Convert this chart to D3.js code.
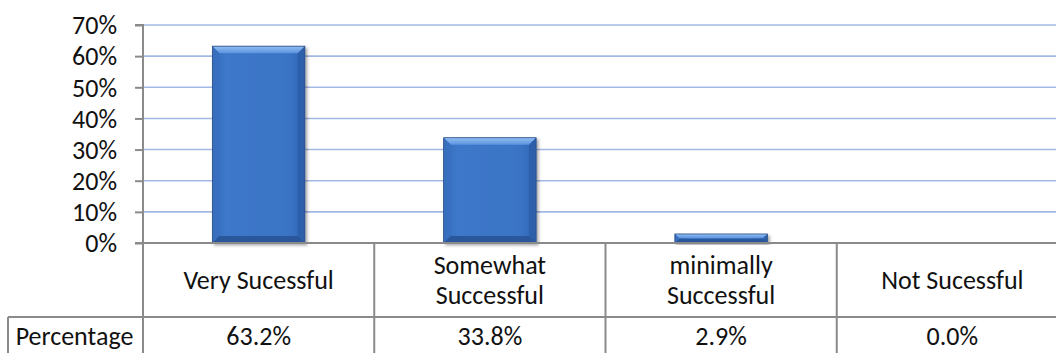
<!DOCTYPE html>
<html>
<head>
<meta charset="utf-8">
<script src="https://cdn.jsdelivr.net/npm/d3@7"></script>
<style>
  html, body { margin: 0; padding: 0; background: #fff; }
  svg { display: block; }
  text { font-family: Carlito, Calibri, "Open Sans", sans-serif; fill: #111; }
</style>
</head>
<body>
<svg id="chart" width="1056" height="353"></svg>
<script>
// Survey results: share of responses in each success rating
const categories = [["Very Sucessful"], ["Somewhat", "Successful"], ["minimally", "Successful"], ["Not Sucessful"]];
const values = [0.632, 0.338, 0.029, 0.0];
const valueLabels = ["63.2%", "33.8%", "2.9%", "0.0%"];
const yTicks = [0, 0.1, 0.2, 0.3, 0.4, 0.5, 0.6, 0.7];
const rowLabel = "Percentage";

const W = 1056, H = 353;
const plotLeft = 143, plotRight = 1068, plotTop = 25, plotBottom = 243;
const headerBottom = 317, tableBottom = 356, rowLabelLeft = 8;
const fontSize = 26;
const fontStack = 'Carlito, Calibri, "Open Sans", sans-serif';

const svg = d3.select("#chart");
const keys = categories.map((c, i) => i);

const x = d3.scaleBand().domain(keys).range([plotLeft, plotRight]).paddingInner(0.6).paddingOuter(0.3);
const y = d3.scaleLinear().domain([0, 0.7]).range([plotBottom, plotTop]);

const defs = svg.append("defs");
const topGrad = defs.append("linearGradient").attr("id", "bevelTop").attr("x1", 0).attr("y1", 0).attr("x2", 0).attr("y2", 1);
topGrad.append("stop").attr("offset", "0%").attr("stop-color", "#94bef2");
topGrad.append("stop").attr("offset", "100%").attr("stop-color", "#5a94df");
const bodyGrad = defs.append("linearGradient").attr("id", "barBody").attr("x1", 0).attr("y1", 0).attr("x2", 1).attr("y2", 0);
bodyGrad.append("stop").attr("offset", "0%").attr("stop-color", "#3569b8");
bodyGrad.append("stop").attr("offset", "15%").attr("stop-color", "#3d78ca");
bodyGrad.append("stop").attr("offset", "85%").attr("stop-color", "#3a73c4");
bodyGrad.append("stop").attr("offset", "100%").attr("stop-color", "#2f62ae");
const shadow = defs.append("filter").attr("id", "barShadow").attr("x", "-20%").attr("y", "-20%").attr("width", "140%").attr("height", "140%");
shadow.append("feDropShadow").attr("dx", 2).attr("dy", 2).attr("stdDeviation", 1.8)
  .attr("flood-color", "#000").attr("flood-opacity", 0.35);

// Horizontal gridlines
svg.append("g")
  .selectAll("line")
  .data(yTicks.filter(t => t > 0))
  .join("line")
  .attr("x1", plotLeft).attr("x2", W)
  .attr("y1", d => y(d)).attr("y2", d => y(d))
  .attr("stroke", "#a3b8e4").attr("stroke-width", 1.6);

// Y axis
const yAxis = d3.axisLeft(y).tickValues(yTicks).tickFormat(d3.format(".0%")).tickSize(8).tickPadding(18);
const gy = svg.append("g").attr("transform", `translate(${plotLeft},0)`).call(yAxis);
gy.select(".domain").attr("stroke", "#8a8a8a").attr("stroke-width", 2).attr("d", `M-8,${y(0.7)}H0V${y(0)}`);
gy.selectAll(".tick line").attr("stroke", "#8a8a8a").attr("stroke-width", 2);
gy.selectAll(".tick text").style("font-size", fontSize + "px").attr("fill", "#111")
  .style("font-family", fontStack).attr("dy", "0.34em");

// Bars with bevelled edges
const bars = svg.append("g").selectAll("g.bar")
  .data(keys.filter(i => values[i] > 0))
  .join("g").attr("class", "bar").attr("filter", "url(#barShadow)");

bars.each(function (i) {
  const g = d3.select(this);
  const bx = x(i), bw = x.bandwidth();
  const by = y(values[i]), bh = y(0) - y(values[i]);
  const b = Math.min(7, bh / 2.2);
  g.append("rect").attr("x", bx).attr("y", by).attr("width", bw).attr("height", bh).attr("fill", "url(#barBody)");
  const poly = pts => "M" + pts.map(p => p.join(",")).join("L") + "Z";
  g.append("path").attr("d", poly([[bx, by], [bx + bw, by], [bx + bw - b, by + b], [bx + b, by + b]])).attr("fill", "url(#bevelTop)");
  g.append("path").attr("d", poly([[bx, by], [bx + b, by + b], [bx + b, by + bh - b], [bx, by + bh]])).attr("fill", "#3a6fbf").attr("opacity", 0.9);
  g.append("path").attr("d", poly([[bx + bw, by], [bx + bw - b, by + b], [bx + bw - b, by + bh - b], [bx + bw, by + bh]])).attr("fill", "#2e5ea8").attr("opacity", 0.9);
  g.append("path").attr("d", poly([[bx, by + bh], [bx + b, by + bh - b], [bx + bw - b, by + bh - b], [bx + bw, by + bh]])).attr("fill", "#2b579c");
  g.append("rect").attr("x", bx).attr("y", by).attr("width", bw).attr("height", bh)
    .attr("fill", "none").attr("stroke", "#2c4f86").attr("stroke-width", 0.8);
});

// Data table beneath the axis
const step = x.step();
const colEdges = keys.map(i => x(i) - x.paddingOuter() * step).concat([plotRight]);
const grid = svg.append("g").attr("stroke", "#8a8a8a").attr("stroke-width", 2).attr("fill", "none");
grid.append("line").attr("x1", plotLeft - 8).attr("x2", W).attr("y1", y(0)).attr("y2", y(0));
grid.append("line").attr("x1", rowLabelLeft).attr("x2", W).attr("y1", headerBottom).attr("y2", headerBottom);
grid.append("line").attr("x1", rowLabelLeft).attr("x2", rowLabelLeft).attr("y1", headerBottom).attr("y2", tableBottom);
grid.selectAll("line.col").data(colEdges).join("line").attr("class", "col")
  .attr("x1", d => d).attr("x2", d => d).attr("y1", y(0)).attr("y2", tableBottom);

const heads = svg.append("g").selectAll("text")
  .data(keys).join("text")
  .attr("x", i => x(i) + x.bandwidth() / 2)
  .attr("text-anchor", "middle")
  .style("font-size", fontSize + "px");
heads.each(function (i) {
  const lines = categories[i];
  const t = d3.select(this);
  const mid = (y(0) + headerBottom) / 2;
  const lh = 30.5;
  lines.forEach((ln, k) => {
    t.append("tspan").attr("x", x(i) + x.bandwidth() / 2)
      .attr("y", mid + (k - (lines.length - 1) / 2) * lh).attr("dy", "0.34em").text(ln);
  });
});

svg.append("g").selectAll("text")
  .data(keys).join("text")
  .attr("x", i => x(i) + x.bandwidth() / 2)
  .attr("y", 336).attr("dy", "0.34em")
  .attr("text-anchor", "middle")
  .style("font-size", fontSize + "px")
  .text(i => valueLabels[i]);

svg.append("text")
  .attr("x", (rowLabelLeft + plotLeft) / 2 - 1).attr("y", 336).attr("dy", "0.34em")
  .attr("text-anchor", "middle")
  .style("font-size", fontSize + "px")
  .text(rowLabel);
</script>
</body>
</html>
